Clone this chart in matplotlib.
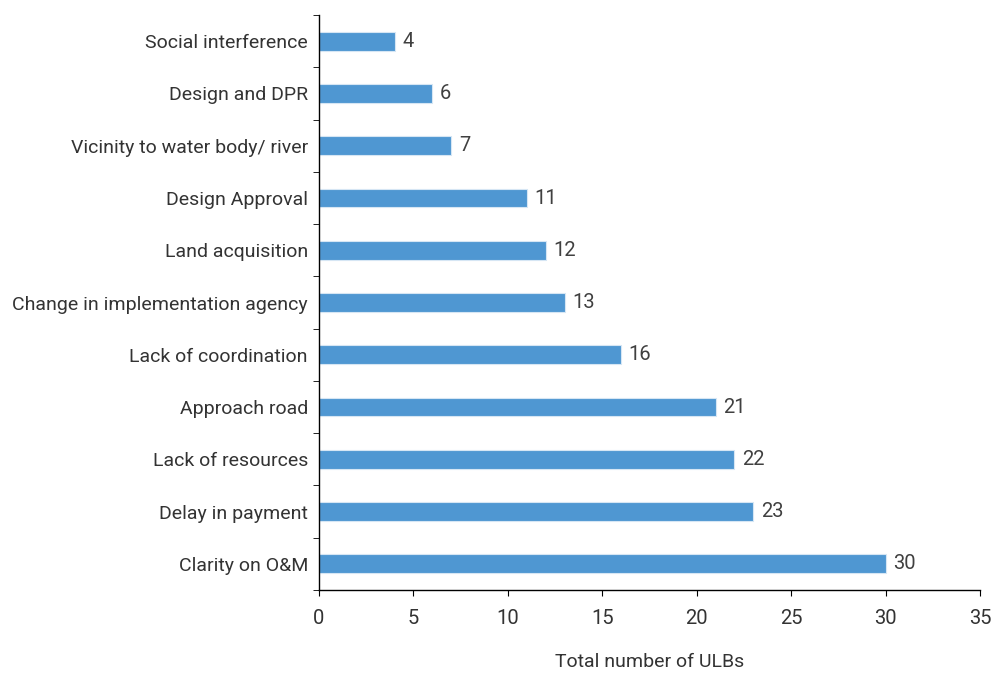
import matplotlib.pyplot as plt
import numpy as np

categories = ['Social interference', 'Design and DPR', 'Vicinity to water body/ river',
              'Design Approval', 'Land acquisition', 'Change in implementation agency',
              'Lack of coordination', 'Approach road', 'Lack of resources',
              'Delay in payment', 'Clarity on O&M']
values = [4, 6, 7, 11, 12, 13, 16, 21, 22, 23, 30]
xticks = [0, 5, 10, 15, 20, 25, 30, 35]

plt.rcParams['font.family'] = ['Roboto', 'DejaVu Sans']
text_color = '#333333'

fig = plt.figure(figsize=(10, 6.74), dpi=100)
ax = fig.add_axes([0.319, 0.1246, 0.661, 0.853])

pos = np.arange(len(categories))
ax.barh(pos, values, height=0.36, color='#4F97D2', edgecolor='#D6E6F4', linewidth=0.8)
ax.set_ylim(len(categories) - 0.5, -0.5)
ax.set_xlim(0, 35)

# value labels next to each bar
for p, v in zip(pos, values):
    ax.text(v + 0.4, p, str(v), va='center', ha='left', fontsize=14.5, color='#404040')

ax.set_yticks(pos)
ax.set_yticklabels(categories, fontsize=14, color=text_color)
ax.tick_params(axis='y', length=0, pad=8)
ax.set_yticks(np.arange(len(categories) + 1) - 0.5, minor=True)
ax.tick_params(axis='y', which='minor', length=4, direction='out')

ax.set_xticks(xticks)
ax.set_xticklabels([str(t) for t in xticks], fontsize=14.5, color=text_color)
ax.tick_params(axis='x', length=4, direction='out', pad=10)
ax.set_xlabel('Total number of ULBs', fontsize=14, color=text_color, labelpad=18)

for s in ['top', 'right']:
    ax.spines[s].set_visible(False)
for s in ['left', 'bottom']:
    ax.spines[s].set_color('black')
    ax.spines[s].set_linewidth(1.0)

plt.savefig('out.png', dpi=100)
